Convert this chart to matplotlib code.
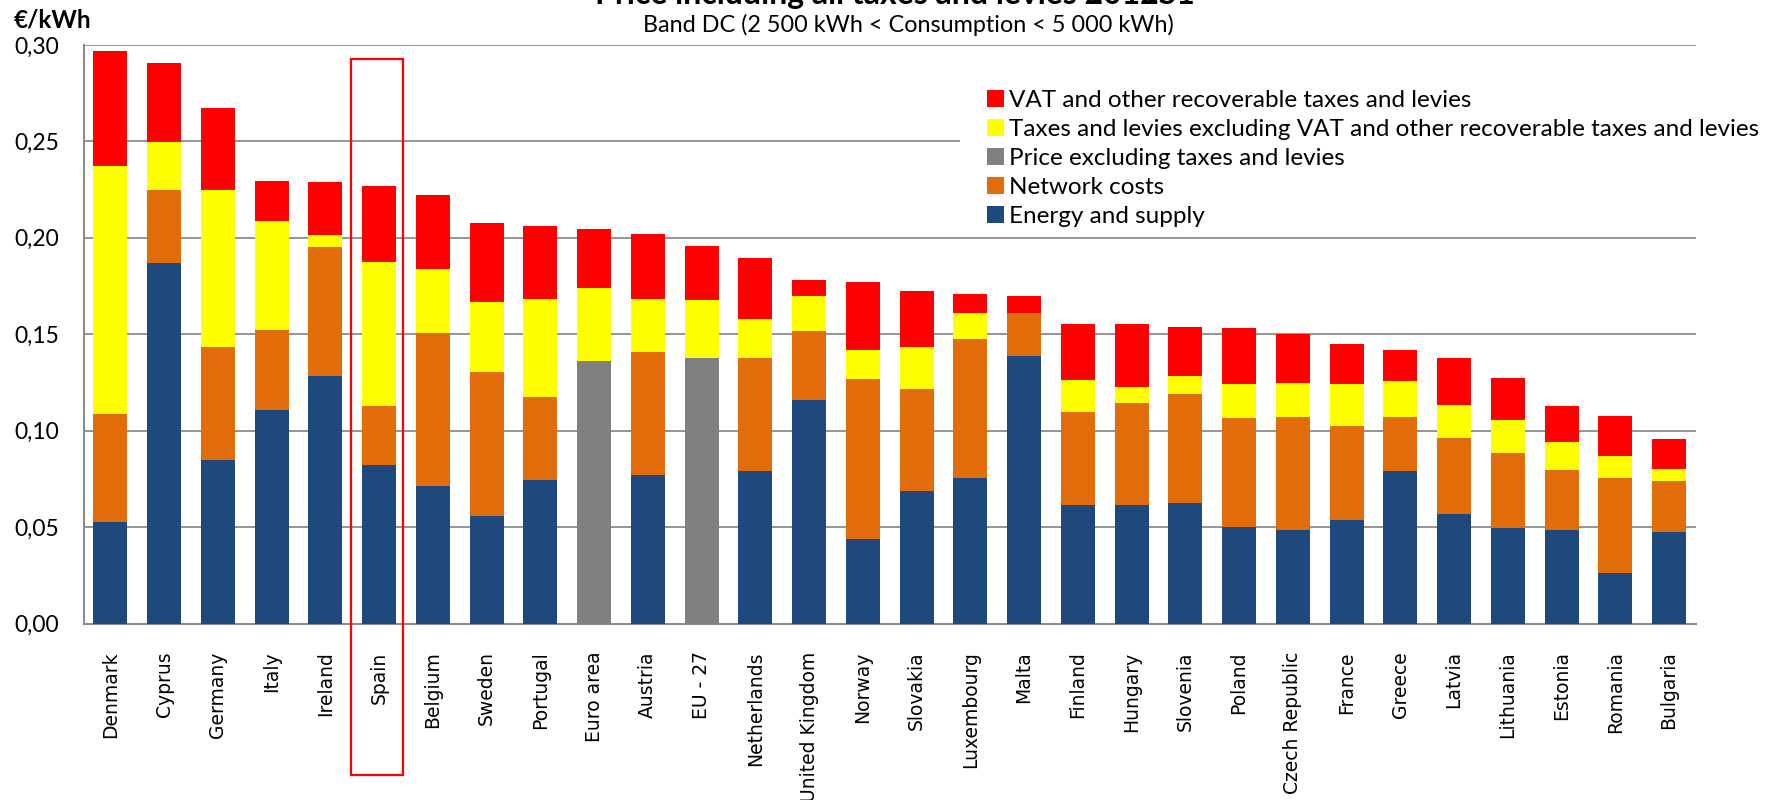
import matplotlib
matplotlib.use("Agg")
import matplotlib.pyplot as plt
import matplotlib.patches as mpatches
import matplotlib.transforms as mtransforms
import numpy as np

countries = ["Denmark", "Cyprus", "Germany", "Italy", "Ireland", "Spain", "Belgium",
             "Sweden", "Portugal", "Euro area", "Austria", "EU - 27", "Netherlands",
             "United Kingdom", "Norway", "Slovakia", "Luxembourg", "Malta", "Finland",
             "Hungary", "Slovenia", "Poland", "Czech Republic", "France", "Greece",
             "Latvia", "Lithuania", "Estonia", "Romania", "Bulgaria"]

energy_supply = [0.0526, 0.1867, 0.0847, 0.1106, 0.1284, 0.0823, 0.0712, 0.0557, 0.0743, 0.0,
                 0.0768, 0.0, 0.0792, 0.1161, 0.0440, 0.0686, 0.0752, 0.1386, 0.0614, 0.0614,
                 0.0623, 0.0503, 0.0486, 0.0535, 0.0792, 0.0567, 0.0496, 0.0484, 0.0260, 0.0472]
network_costs = [0.0563, 0.0379, 0.0587, 0.0418, 0.0666, 0.0307, 0.0795, 0.0749, 0.0434, 0.0,
                 0.0642, 0.0, 0.0587, 0.0354, 0.0827, 0.0531, 0.0722, 0.0226, 0.0482, 0.0532,
                 0.0569, 0.0562, 0.0587, 0.0490, 0.0281, 0.0395, 0.0389, 0.0313, 0.0496, 0.0266]
price_excl_taxes = [0.0, 0.0, 0.0, 0.0, 0.0, 0.0, 0.0, 0.0, 0.0, 0.1363,
                    0.0, 0.1379, 0.0, 0.0, 0.0, 0.0, 0.0, 0.0, 0.0, 0.0,
                    0.0, 0.0, 0.0, 0.0, 0.0, 0.0, 0.0, 0.0, 0.0, 0.0]
taxes_excl_vat = [0.1286, 0.0250, 0.0813, 0.0561, 0.0064, 0.0746, 0.0329, 0.0363, 0.0506, 0.0377,
                  0.0273, 0.0297, 0.0200, 0.0185, 0.0153, 0.0217, 0.0138, 0.0, 0.0169, 0.0081,
                  0.0090, 0.0177, 0.0176, 0.0217, 0.0185, 0.0171, 0.0172, 0.0142, 0.0112, 0.0065]
vat_taxes = [0.0594, 0.0409, 0.0427, 0.0211, 0.0273, 0.0394, 0.0385, 0.0407, 0.0378, 0.0305,
             0.0338, 0.0281, 0.0314, 0.0081, 0.0352, 0.0290, 0.0097, 0.0088, 0.0290, 0.0328,
             0.0257, 0.0289, 0.0251, 0.0208, 0.0161, 0.0242, 0.0218, 0.0189, 0.0206, 0.0153]

yticks = [0.00, 0.05, 0.10, 0.15, 0.20, 0.25, 0.30]
ytick_labels = ["0,00", "0,05", "0,10", "0,15", "0,20", "0,25", "0,30"]

highlight = "Spain"

c_energy = "#1F497D"
c_network = "#E36C0A"
c_gray = "#808080"
c_yellow = "#FFFF00"
c_red = "#FF0000"

calibri_like = ["Lato", "DejaVu Sans"]

fig = plt.figure(figsize=(17.8, 8.0), dpi=100)
ax = fig.add_axes([84 / 1780, 1 - 623.5 / 800, 1612 / 1780, (623.5 - 45) / 800])

x = np.arange(len(countries))
w = 0.63
series = [
    (energy_supply, c_energy, "Energy and supply"),
    (network_costs, c_network, "Network costs"),
    (price_excl_taxes, c_gray, "Price excluding taxes and levies"),
    (taxes_excl_vat, c_yellow, "Taxes and levies excluding VAT and other recoverable taxes and levies"),
    (vat_taxes, c_red, "VAT and other recoverable taxes and levies"),
]
bottom = np.zeros(len(countries))
handles = {}
for vals, col, lab in series:
    v = np.array(vals)
    b = ax.bar(x, v, w, bottom=bottom, color=col, edgecolor="none", zorder=3, label=lab)
    handles[lab] = b
    bottom = bottom + v

ax.set_xlim(-0.49, len(countries) - 0.5)
ax.set_ylim(0, 0.30)
ax.set_yticks(yticks)
ax.set_yticklabels(ytick_labels, fontsize=16.5, family=calibri_like)
ax.set_xticks(x)
ax.set_xticklabels(countries, rotation=90, fontsize=13.5, family="DejaVu Sans")
ax.tick_params(axis="both", length=0)
ax.tick_params(axis="y", pad=18)
ax.tick_params(axis="x", pad=20)

ax.grid(axis="y", color="#8C8C8C", linewidth=1.3, zorder=0)
ax.set_axisbelow(True)
for s in ["top", "right"]:
    ax.spines[s].set_visible(False)
for s in ["left", "bottom"]:
    ax.spines[s].set_color("#8C8C8C")
    ax.spines[s].set_linewidth(1.5)

# highlight box around Spain
i = countries.index(highlight)
trans = mtransforms.blended_transform_factory(ax.transData, ax.transAxes)
rect = mpatches.Rectangle((i - 0.53, -0.262), 0.98, 0.976 + 0.262, transform=trans,
                          fill=False, edgecolor="#FF0000", linewidth=1.6, clip_on=False, zorder=5)
ax.add_patch(rect)

# white legend background (hides the 0.25 gridline only)
bg = mpatches.Rectangle(((960 - 84) / 1612, (623.5 - 232) / 578.5), 1.0, (232 - 72) / 578.5,
                        transform=ax.transAxes, facecolor="white", edgecolor="none", zorder=1)
ax.add_patch(bg)

order = ["VAT and other recoverable taxes and levies",
         "Taxes and levies excluding VAT and other recoverable taxes and levies",
         "Price excluding taxes and levies",
         "Network costs",
         "Energy and supply"]
leg = ax.legend([handles[o] for o in order], order, loc="upper left",
                bbox_to_anchor=((968 - 84) / 1612, (623.5 - 71) / 578.5),
                frameon=False,
                prop={"family": calibri_like, "size": 17.5},
                handlelength=0.7, handleheight=0.7, handletextpad=0.2,
                labelspacing=0.32, borderpad=0.8, borderaxespad=0)
leg.set_zorder(4)

fig.text(14 / 1780, 1 - 27 / 800, "€/kWh", fontsize=17.5, fontweight="bold",
         family=calibri_like, ha="left", va="baseline")
fig.text(895 / 1780, 1 - 4 / 800, "Price including all taxes and levies 2012S1",
         fontsize=23, fontweight="bold", family=calibri_like, ha="center", va="baseline")
fig.text(908 / 1780, 1 - 32 / 800, "Band DC (2 500 kWh < Consumption < 5 000 kWh)",
         fontsize=16.8, family=calibri_like, ha="center", va="baseline")

fig.savefig("out.png", dpi=100, facecolor="white")
